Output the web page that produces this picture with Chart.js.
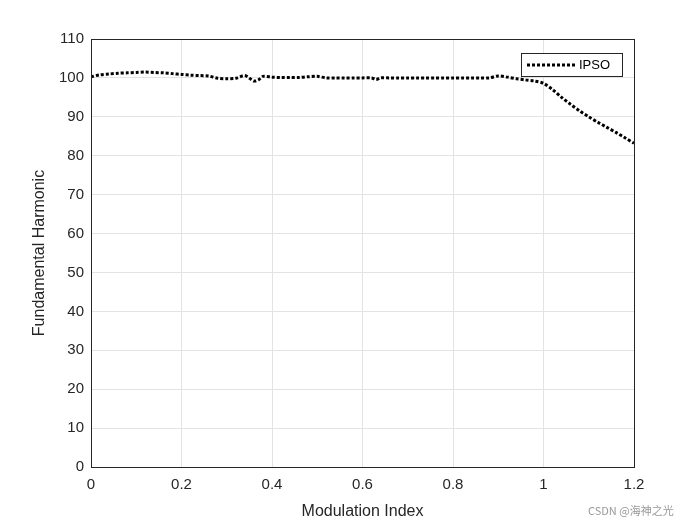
<!DOCTYPE html>
<html><head><meta charset="utf-8">
<script src="https://cdn.jsdelivr.net/npm/chart.js@4"></script>
<style>html,body{margin:0;background:#fff}#wrap{width:700px;height:525px;position:relative}</style>
</head><body><div id="wrap"><canvas id="c"></canvas></div>
<script>
// modulation index vs fundamental harmonic (IPSO)
const mIndex = [0,0.02,0.04,0.06,0.08,0.1,0.12,0.14,0.16,0.18,0.2,0.22,0.24,0.26,0.28,0.3,0.32,0.34,0.36,0.37,0.38,0.4,0.42,0.44,0.46,0.48,0.5,0.52,0.54,0.56,0.58,0.6,0.62,0.63,0.64,0.66,0.68,0.7,0.72,0.74,0.76,0.78,0.8,0.82,0.84,0.86,0.88,0.9,0.92,0.94,0.96,0.98,1.0,1.02,1.04,1.06,1.08,1.1,1.12,1.14,1.16,1.18,1.2];
const ipso = [100.3,100.8,101.0,101.2,101.3,101.4,101.5,101.4,101.3,101.1,100.9,100.7,100.6,100.5,99.9,99.8,99.9,100.6,99.2,99.5,100.4,100.2,100.1,100.1,100.1,100.3,100.4,100.0,100.0,100.0,100.0,100.0,100.0,99.6,100.0,100.0,100.0,100.0,100.0,100.0,100.0,100.0,100.0,100.0,100.0,100.0,100.0,100.5,100.2,99.8,99.5,99.2,98.6,97.0,95.0,93.2,91.5,90.0,88.6,87.3,86.0,84.6,83.2];
const seriesName = 'IPSO';

const frame = {
  id:'frame',
  afterDraw(ch){
    const a = ch.chartArea, g = ch.ctx;
    g.save();
    g.strokeStyle='#262626'; g.lineWidth=1;
    g.strokeRect(a.left+0.5,a.top+0.5,a.right-a.left,a.bottom-a.top);
    // legend box
    const bx=521, by=53, bw=101, bh=23;
    g.fillStyle='#fff'; g.fillRect(bx,by,bw,bh);
    g.strokeRect(bx+0.5,by+0.5,bw,bh);
    g.setLineDash([3,2]); g.lineWidth=3; g.strokeStyle='#000';
    g.beginPath(); g.moveTo(527,65); g.lineTo(577,65); g.stroke();
    g.setLineDash([]);
    g.fillStyle='#000'; g.font='13px Arial, "Liberation Sans"'; g.textBaseline='middle';
    g.fillText(seriesName,579,65);
    g.fillStyle='#999'; g.font='11px "Noto Sans CJK SC"';
    g.fillText('CSDN @海神之光',588,511);
    g.restore();
  }
};

const font = {family:'Arial, "Liberation Sans"', size:15};
new Chart(document.getElementById('c'),{
  type:'line',
  data:{datasets:[{label:seriesName,data:mIndex.map((x,i)=>({x,y:ipso[i]})),
    borderColor:'#000',borderWidth:3,borderDash:[3,2],pointRadius:0,tension:0.3,fill:false}]},
  options:{
    responsive:true, maintainAspectRatio:false, animation:false,
    layout:{padding:{top:39,right:66,left:30,bottom:0}},
    plugins:{legend:{display:false},tooltip:{enabled:false}},
    scales:{
      x:{type:'linear',min:0,max:1.2,
        ticks:{stepSize:0.2,color:'#262626',font,padding:9,callback:v=>Math.round(v*10)/10},
        grid:{color:'#e3e3e3',drawTicks:false},border:{display:false},
        title:{display:true,text:'Modulation Index',color:'#262626',font:{family:font.family,size:16},padding:{top:2}},
        afterFit(s){s.height=58;}},
      y:{min:0,max:110,
        ticks:{stepSize:10,color:'#262626',font,padding:7},
        grid:{color:'#e3e3e3',drawTicks:false},border:{display:false},
        title:{display:true,text:'Fundamental Harmonic',color:'#262626',font:{family:font.family,size:16},padding:0},
        afterFit(s){s.width=61;}}
    }
  },
  plugins:[frame]
});
</script></body></html>
